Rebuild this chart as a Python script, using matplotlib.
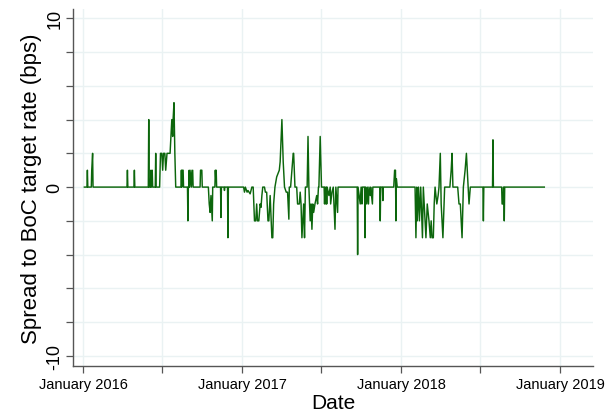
import matplotlib.pyplot as plt
import pandas as pd

# daily spread of the overnight repo rate to the Bank of Canada target (bps)
dates = [
    "2016-01-04", "2016-01-10", "2016-01-11", "2016-01-12", "2016-01-20", "2016-01-21",
    "2016-01-23", "2016-01-24", "2016-04-11", "2016-04-12", "2016-04-13", "2016-04-27",
    "2016-04-28", "2016-04-29", "2016-05-30", "2016-05-31", "2016-06-01", "2016-06-04",
    "2016-06-05", "2016-06-06", "2016-06-08", "2016-06-09", "2016-06-15", "2016-06-16",
    "2016-06-17", "2016-06-25", "2016-06-27", "2016-06-30", "2016-07-02", "2016-07-04",
    "2016-07-07", "2016-07-09", "2016-07-12", "2016-07-16", "2016-07-19", "2016-07-21",
    "2016-07-23", "2016-07-25", "2016-07-26", "2016-07-28", "2016-07-30", "2016-08-01",
    "2016-08-13", "2016-08-14", "2016-08-15", "2016-08-16", "2016-08-18", "2016-08-19",
    "2016-08-28", "2016-08-29", "2016-08-30", "2016-08-31", "2016-09-01", "2016-09-02",
    "2016-09-05", "2016-09-06", "2016-09-09", "2016-09-10", "2016-09-26", "2016-09-27",
    "2016-09-30", "2016-10-01", "2016-10-15", "2016-10-17", "2016-10-19", "2016-10-21",
    "2016-10-24", "2016-10-25", "2016-10-30", "2016-10-31", "2016-11-01", "2016-11-02",
    "2016-11-03", "2016-11-12", "2016-11-13", "2016-11-14", "2016-11-20", "2016-11-21",
    "2016-11-22", "2016-11-28", "2016-11-29", "2016-11-30",
    "2017-01-04", "2017-01-06", "2017-01-08", "2017-01-12", "2017-01-14", "2017-01-19",
    "2017-01-23", "2017-01-26", "2017-01-29", "2017-02-01", "2017-02-03", "2017-02-05",
    "2017-02-08", "2017-02-11", "2017-02-13", "2017-02-15", "2017-02-17", "2017-02-21",
    "2017-02-23", "2017-02-26", "2017-03-01", "2017-03-03", "2017-03-06", "2017-03-10",
    "2017-03-12", "2017-03-14", "2017-03-17", "2017-03-21", "2017-03-24", "2017-03-27",
    "2017-03-29", "2017-04-02", "2017-04-05", "2017-04-08", "2017-04-12", "2017-04-15",
    "2017-04-18", "2017-04-19", "2017-04-22", "2017-04-25", "2017-04-28", "2017-04-29",
    "2017-05-02", "2017-05-06", "2017-05-08", "2017-05-12", "2017-05-14", "2017-05-16",
    "2017-05-18", "2017-05-22", "2017-05-24", "2017-05-26", "2017-05-30", "2017-06-01",
    "2017-06-03", "2017-06-06", "2017-06-08", "2017-06-10", "2017-06-12", "2017-06-14",
    "2017-06-17", "2017-06-21", "2017-06-23", "2017-06-25", "2017-06-26", "2017-06-29",
    "2017-07-02", "2017-07-08", "2017-07-09", "2017-07-10", "2017-07-12", "2017-07-13",
    "2017-07-14", "2017-07-15", "2017-07-19", "2017-07-22", "2017-07-23", "2017-07-26",
    "2017-07-29", "2017-08-02", "2017-08-04", "2017-08-08", "2017-08-09", "2017-09-22",
    "2017-09-23", "2017-09-24", "2017-09-29", "2017-10-01", "2017-10-03", "2017-10-04",
    "2017-10-09", "2017-10-10", "2017-10-11", "2017-10-14", "2017-10-15", "2017-10-18",
    "2017-10-19", "2017-10-22", "2017-10-23", "2017-10-27", "2017-10-28", "2017-11-13",
    "2017-11-14", "2017-11-15", "2017-11-19", "2017-11-20", "2017-11-21", "2017-12-15",
    "2017-12-17", "2017-12-19", "2017-12-20", "2017-12-21", "2017-12-23",
    "2018-02-02", "2018-02-04", "2018-02-06", "2018-02-07", "2018-02-10", "2018-02-12",
    "2018-02-15", "2018-02-19", "2018-02-21", "2018-02-25", "2018-02-27", "2018-03-02",
    "2018-03-06", "2018-03-09", "2018-03-11", "2018-03-13", "2018-03-16", "2018-03-18",
    "2018-03-20", "2018-03-24", "2018-03-27", "2018-03-29", "2018-04-01", "2018-04-03",
    "2018-04-07", "2018-04-11", "2018-04-23", "2018-04-26", "2018-04-28", "2018-04-30",
    "2018-05-11", "2018-05-14", "2018-05-17", "2018-05-21", "2018-05-24", "2018-05-28",
    "2018-05-31", "2018-06-03", "2018-06-06", "2018-06-09", "2018-07-08", "2018-07-09",
    "2018-07-10", "2018-07-30", "2018-07-31", "2018-08-01", "2018-08-20", "2018-08-21",
    "2018-08-23", "2018-08-24", "2018-08-25", "2018-08-26", "2018-08-27", "2018-11-26",
]
spread = [
    0, 0, 1, 0, 0, 1,
    2, 0, 0, 1, 0, 0,
    1, 0, 0, 4, 0, 0,
    1, 0, 1, 0, 0, 2,
    0, 0, 2, 2, 1, 2,
    2, 1, 2, 2, 2, 3,
    4, 3, 4, 5, 2, 0,
    0, 1, 0, 1, 1, 0,
    0, -2, 0, 0, 1, 0,
    1, 0, 1, 0, 0, 1,
    1, 0, 0, -1, -1.5, -0.5,
    -2, 0, 0, 1, 0.5, 1,
    0, 0, -1.8, 0, 0, -0.2,
    0, 0, -3, 0,
    0, -0.3, 0, -0.3, -0.2, -0.4,
    0, 0, -2, -2, -1, -2,
    -2, -1, -1.2, -0.5, 0, 0,
    -0.3, -0.3, -2, -2, -0.5, -3,
    -3, -1, 0, 0.6, 0.8, 1,
    1.5, 4, 1.5, 0, -0.3, -0.3,
    -1.9, 0, 0, 1, 2, 2,
    0, 0, -1, -1, -0.3, -1,
    -3, -1, -3, 0, 0, 3,
    0, -2, -1, -2.5, -1, -1.5,
    -1, -0.5, -1, 0, 0, 3,
    0, 0, -1, 0, -1, 0,
    -1, 0, -0.5, 0, -1, -0.3,
    0, -2.5, 0, -1.5, 0, 0,
    -4, 0, -1, 0, -1, 0,
    0, -3, 0, -1, 0, -1,
    0, -0.5, 0, -1, 0, 0,
    -2, 0, 0, -0.8, 0, 0,
    1, 1, -2, 0.5, 0,
    0, -3, 0, -2, 0, -2,
    0, -3, 0, -2, -3, -1,
    -2, -3, -2, -3, -3, -1,
    0, -1, -0.5, 0, 2, -1,
    -3, 0, 0, 1, 2, 0,
    0, -1, -1, -3, 0, 1,
    2, 0.5, -1, 0, 0, -2,
    0, 0, 2.8, 0, 0, -1,
    -1, 0, 0, -2, 0, 0,
]

year_ticks = ["2016-01-01", "2017-01-01", "2018-01-01", "2019-01-01"]
half_ticks = ["2016-07-01", "2017-07-01", "2018-07-01"]

dates = pd.to_datetime(dates)

fig = plt.figure(figsize=(6.07, 4.14), dpi=100)
ax = fig.add_axes([0.1203, 0.1135, 0.8567, 0.8623])

ax.plot(dates, spread, color="#0c660c", linewidth=1.05)

ax.set_xlim(pd.Timestamp("2015-12-09"), pd.Timestamp("2019-03-18"))
ax.set_ylim(-10.6, 10.55)

ax.set_xticks(pd.to_datetime(year_ticks))
ax.set_xticklabels(["January " + t[:4] for t in year_ticks])
ax.set_xticks(pd.to_datetime(half_ticks), minor=True)
ax.set_yticks([-10, 0, 10])
ax.set_yticklabels(["-10", "0", "10"], rotation=90, va="center")
ax.set_yticks([-8, -6, -4, -2, 2, 4, 6, 8], minor=True)

for side in ["top", "right"]:
    ax.spines[side].set_visible(False)
for side in ["left", "bottom"]:
    ax.spines[side].set_color("#555555")
    ax.spines[side].set_linewidth(1.0)

ax.tick_params(which="both", direction="out", length=5, width=0.9, color="#555555")
ax.tick_params(axis="x", labelsize=10.5, pad=3)
ax.tick_params(axis="y", labelsize=13, pad=2)

ax.grid(which="both", color="#eaf2f3", linewidth=1.0)
ax.set_axisbelow(True)

ax.set_xlabel("Date", fontsize=15, labelpad=1)
ax.set_ylabel("Spread to BoC target rate (bps)", fontsize=16, labelpad=3)

for lab in ax.get_xticklabels() + ax.get_yticklabels():
    lab.set_family("Liberation Sans")
ax.xaxis.label.set_family("Liberation Sans")
ax.yaxis.label.set_family("Liberation Sans")

fig.savefig("out.png", dpi=100)
